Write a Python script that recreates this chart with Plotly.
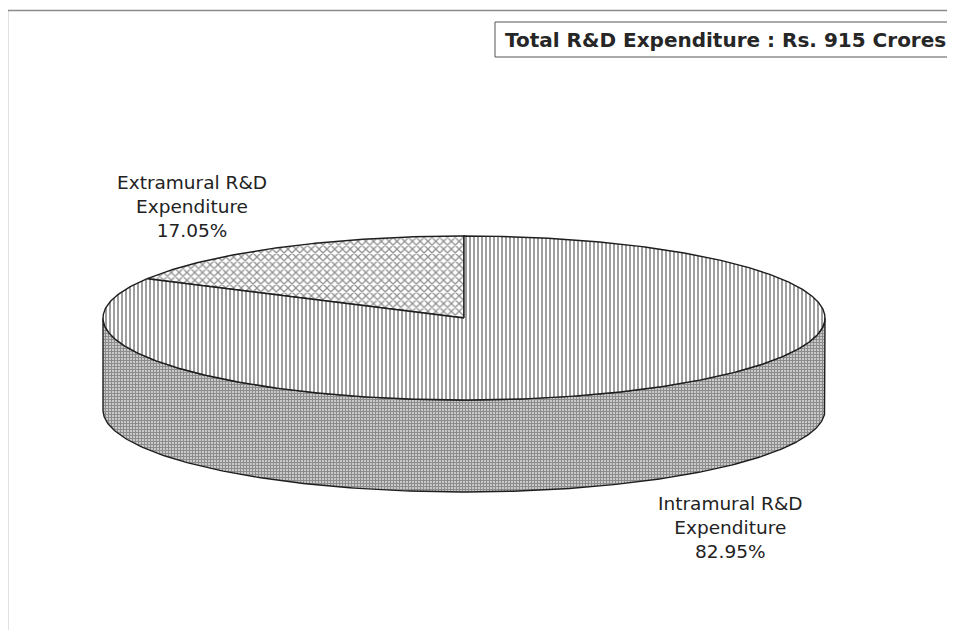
import numpy as np
import plotly.graph_objects as go

# ---- data ----
categories = ["Extramural R&D Expenditure", "Intramural R&D Expenditure"]
label_lines = [["Extramural R&D", "Expenditure"], ["Intramural R&D", "Expenditure"]]
shares = [17.05, 82.95]
total_title = "Total R&D Expenditure : Rs. 915 Crores"

# ---- geometry (window-pixel layout of the 3D pie) ----
W, H = 955, 638
OFF = 8  # page body margin in the browser
FIG_H = 622
cx, cy = 464, 318
a, b = 361, 82
depth = 92


def ell(theta_deg, dy=0.0):
    t = np.radians(theta_deg)
    return cx + a * np.cos(t), cy - b * np.sin(t) + dy


# slice angles: start at 12 o'clock, go counter-clockwise
start = 90.0
angles = []
acc = start
for s in shares:
    span = 360.0 * s / sum(shares)
    angles.append((acc, acc + span))
    acc += span

fig = go.Figure()

# front side wall (visible lower half of the cylinder)
th = np.linspace(180, 360, 240)
xt, yt = ell(th)
xb, yb = ell(th[::-1], depth)
fig.add_trace(go.Scatter(
    x=np.concatenate([xt, xb, xt[:1]]), y=np.concatenate([yt, yb, yt[:1]]),
    mode="lines", fill="toself", line=dict(color="#1e1e1e", width=1.4),
    fillcolor="white",
    fillpattern=dict(shape="+", size=3, solidity=0.78, fgcolor="#1a1a1a", bgcolor="white"),
    hoverinfo="skip", showlegend=False))

patterns = [
    dict(shape="x", size=5.5, solidity=0.42, fgcolor="#222222", bgcolor="white"),
    dict(shape="|", size=4, solidity=0.38, fgcolor="#000000", bgcolor="white"),
]

for (a0, a1), pat, name in zip(angles, patterns, categories):
    th = np.linspace(a0, a1, max(int(abs(a1 - a0) * 2), 20))
    xs, ys = ell(th)
    fig.add_trace(go.Scatter(
        x=np.concatenate([[cx], xs, [cx]]), y=np.concatenate([[cy], ys, [cy]]),
        mode="lines", fill="toself", line=dict(color="#1e1e1e", width=1.4),
        fillcolor="white", fillpattern=pat, name=name,
        hoverinfo="skip", showlegend=False))

# labels
label_pos = [(192, 206), (730, 527)]
for lines, s, (lx, ly) in zip(label_lines, shares, label_pos):
    fig.add_annotation(
        x=lx, y=ly, xref="x", yref="y", showarrow=False,
        text="<br>".join(lines + [f"{s:.2f}%"]), align="center",
        xanchor="center", yanchor="middle",
        font=dict(family="DejaVu Sans", size=18.5, color="#222222"))

# title box
fig.add_shape(type="rect", xref="x", yref="y", x0=495, y0=22, x1=975, y1=57,
              line=dict(color="#555555", width=1), fillcolor="rgba(0,0,0,0)")
fig.add_annotation(
    x=503, y=40, xref="x", yref="y", showarrow=False, text=f"<b>{total_title}</b>",
    xanchor="left", yanchor="middle",
    font=dict(family="DejaVu Sans", size=20, color="#262626"))

# outer chart border (top and left visible)
fig.add_shape(type="line", xref="x", yref="y", x0=7.5, y0=10.5, x1=970, y1=10.5,
              line=dict(color="#8a8a8a", width=1.5))
fig.add_shape(type="line", xref="x", yref="y", x0=7.5, y0=10.5, x1=7.5, y1=650,
              line=dict(color="#8a8a8a", width=1.5))

fig.update_layout(
    width=W - OFF, height=FIG_H, autosize=False,
    margin=dict(l=0, r=0, t=0, b=0),
    paper_bgcolor="white", plot_bgcolor="white",
    xaxis=dict(range=[OFF, W], visible=False, fixedrange=True),
    yaxis=dict(range=[OFF + FIG_H, OFF], visible=False, fixedrange=True),
    showlegend=False,
)

fig.write_html("out.html")
